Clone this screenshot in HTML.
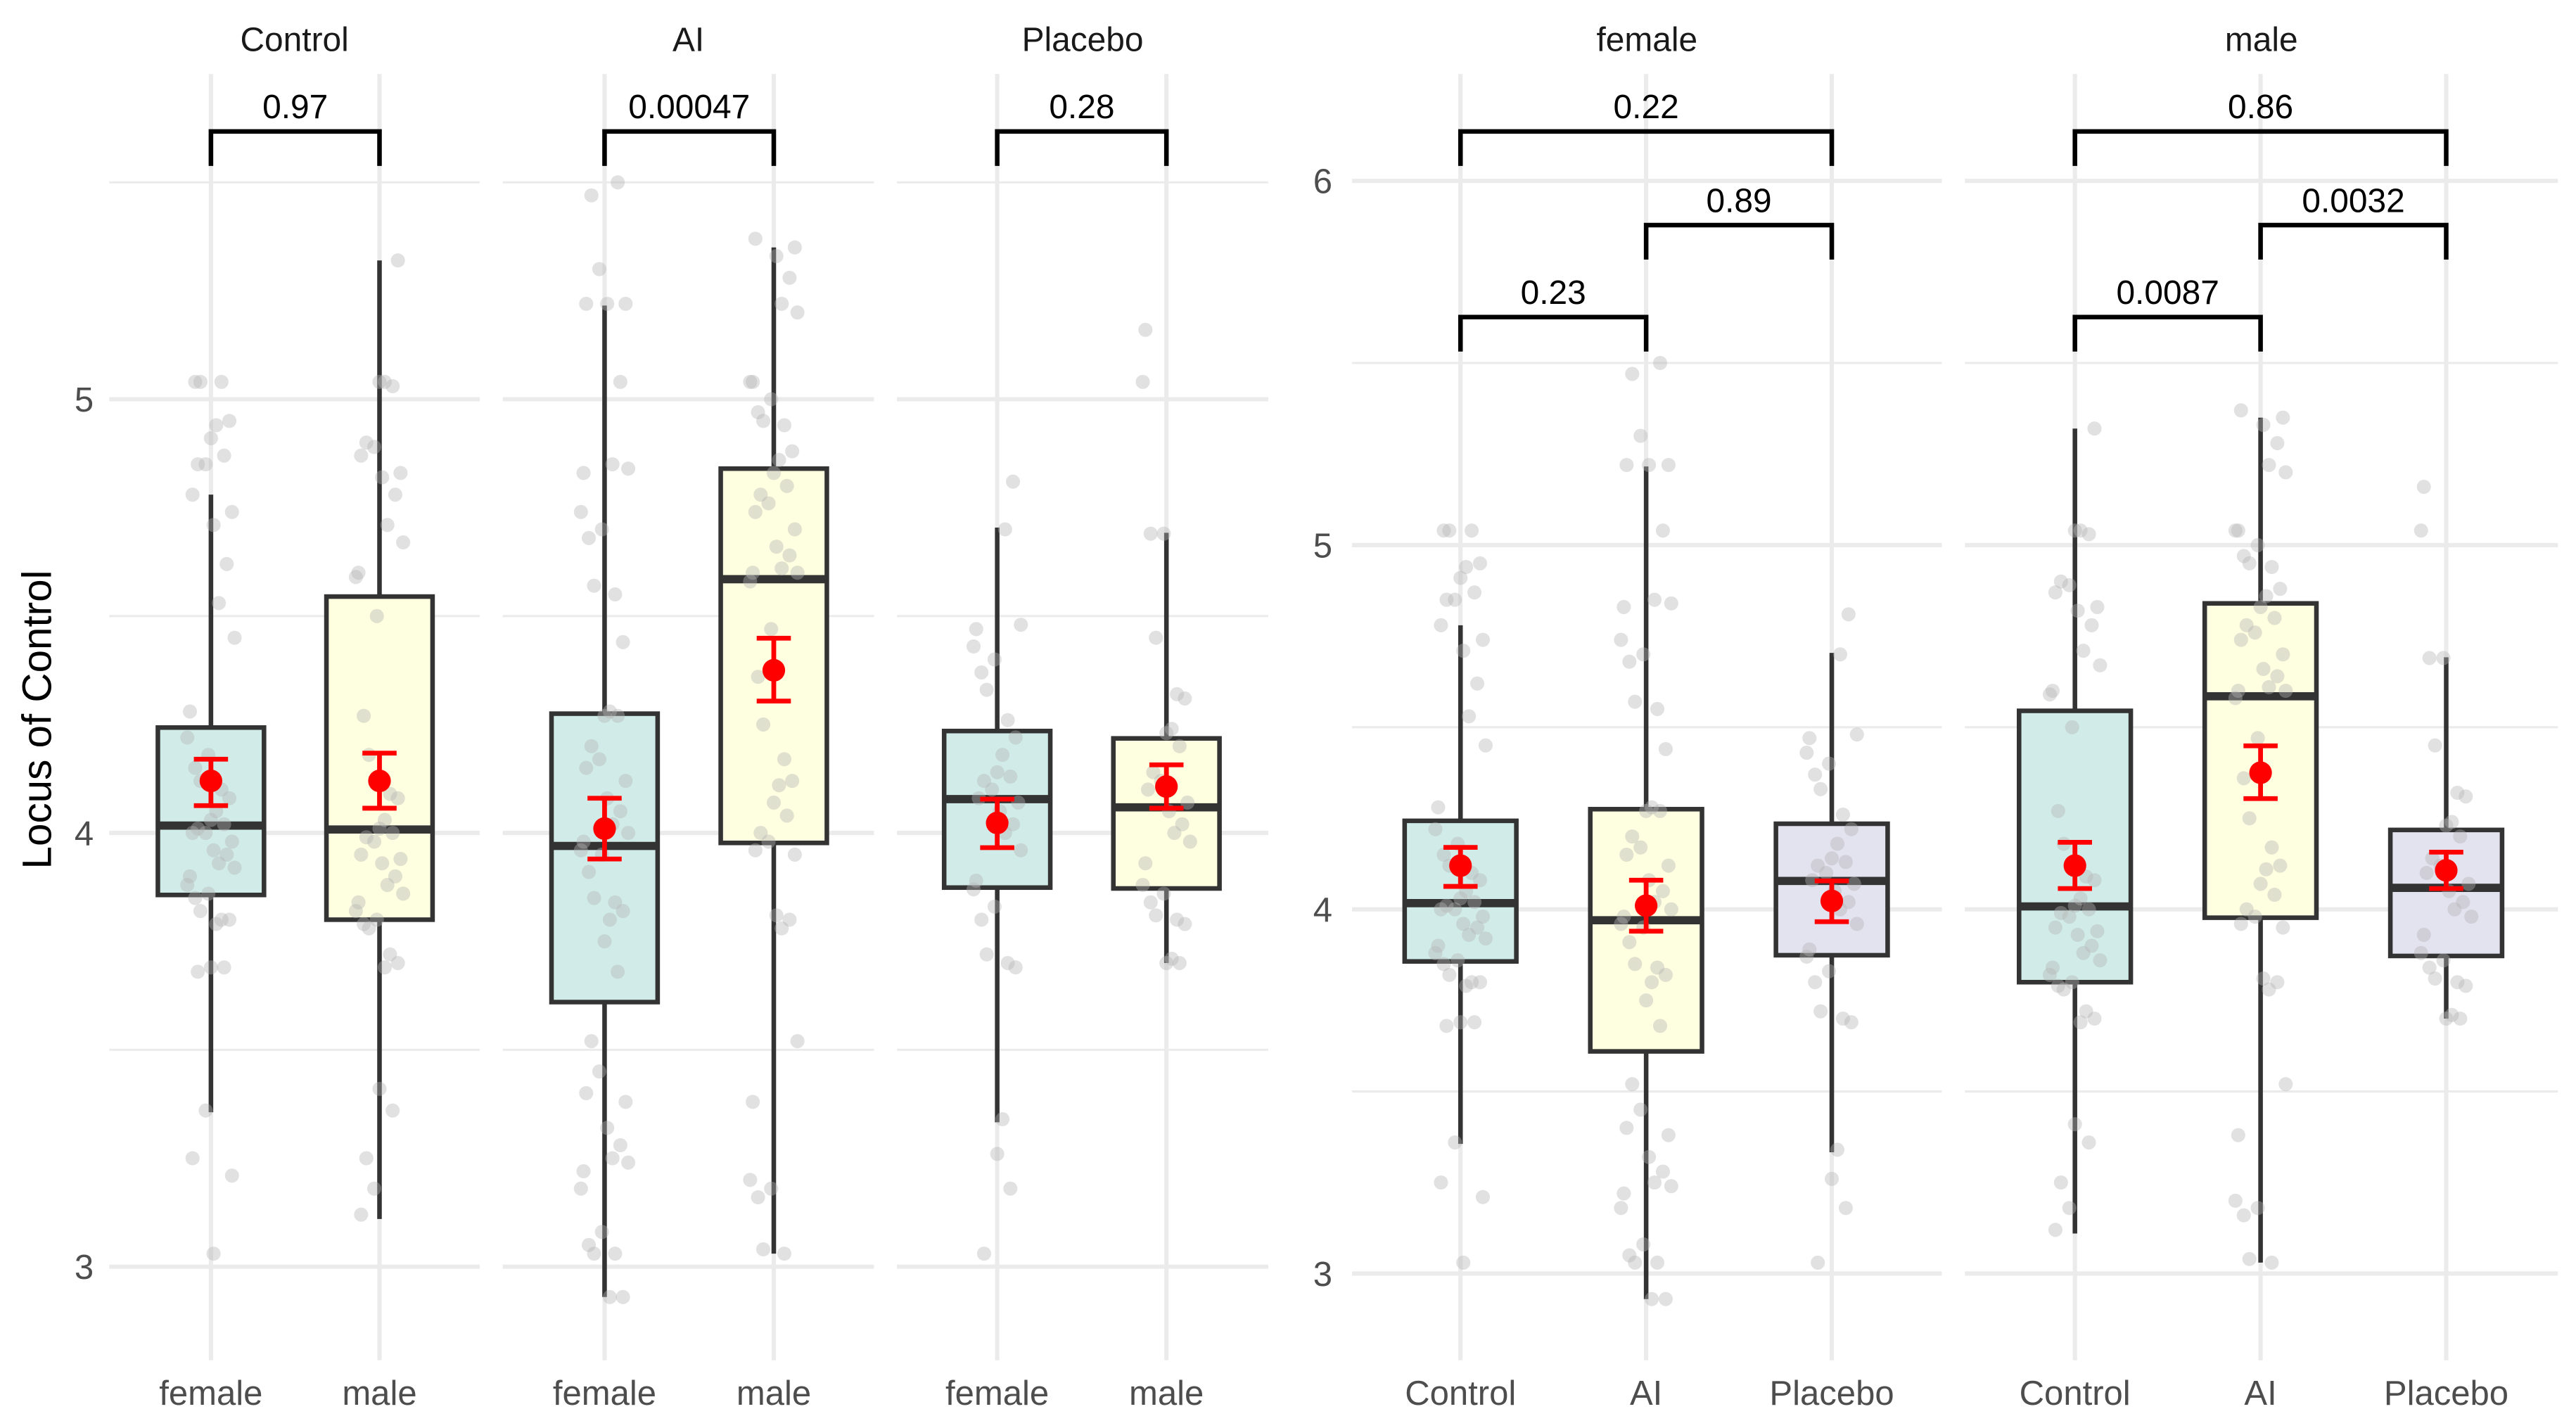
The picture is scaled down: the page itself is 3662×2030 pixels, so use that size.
<!DOCTYPE html>
<html><head><meta charset="utf-8"><style>
html,body{margin:0;padding:0;background:#fff;}
svg{display:block;font-family:"Liberation Sans",Arial,sans-serif;}
</style></head><body>
<svg id="chart" width="3662" height="2030" viewBox="0 0 1568 869.2" xmlns="http://www.w3.org/2000/svg">
<text x="0" y="0" transform="translate(31,438) rotate(-90)" text-anchor="middle" font-size="25" fill="#000">Locus of Control</text>
</svg>
<script>
// ---- data ----
const groupKeys = ["CF","CM","AF","AM","PF","PM"];
const boxQ1 =     [3.857,3.80,3.61,3.977,3.874,3.872];
const boxMedian = [4.017,4.008,3.97,4.585,4.078,4.059];
const boxQ3 =     [4.243,4.545,4.275,4.84,4.235,4.218];
const whiskLo =   [3.356,3.11,2.93,3.03,3.333,3.70];
const whiskHi =   [4.78,5.32,5.216,5.35,4.704,4.692];
const means =     [4.12,4.12,4.01,4.375,4.023,4.107];
const errLo =     [4.063,4.057,3.94,4.304,3.966,4.057];
const errHi =     [4.17,4.184,4.08,4.449,4.078,4.157];
const ptsCF = [5.04,5.04,5.04,4.95,4.94,4.91,4.87,4.85,4.85,4.78,4.74,4.71,4.62,4.53,4.45,4.28,4.22,4.18,4.15,4.12,4.1,4.08,4.05,4.03,4.02,4.01,4.0,4.0,3.98,3.96,3.95,3.93,3.92,3.9,3.88,3.86,3.85,3.82,3.80,3.80,3.79,3.69,3.69,3.68,3.36,3.25,3.21,3.03];
const ptsCM = [5.32,5.04,5.04,5.03,4.90,4.89,4.87,4.83,4.82,4.78,4.71,4.67,4.60,4.59,4.50,4.27,4.18,4.09,4.08,4.03,4.01,4.0,3.99,3.98,3.95,3.94,3.93,3.90,3.88,3.86,3.84,3.82,3.80,3.79,3.78,3.72,3.70,3.69,3.41,3.36,3.25,3.18,3.12];
const ptsAF = [5.5,5.47,5.30,5.22,5.22,5.22,5.04,4.85,4.84,4.83,4.74,4.70,4.68,4.57,4.55,4.44,4.28,4.27,4.27,4.2,4.17,4.15,4.12,4.08,4.05,4.02,4.0,3.98,3.96,3.95,3.91,3.85,3.84,3.82,3.8,3.75,3.68,3.52,3.45,3.40,3.38,3.32,3.28,3.25,3.24,3.22,3.18,3.08,3.05,3.03,3.03,2.93,2.93];
const ptsAM = [5.37,5.35,5.33,5.28,5.22,5.20,5.04,5.04,5.0,4.97,4.95,4.94,4.88,4.86,4.83,4.80,4.78,4.76,4.74,4.70,4.66,4.64,4.61,4.60,4.60,4.58,4.47,4.36,4.25,4.17,4.12,4.11,4.07,4.04,4.0,3.98,3.96,3.95,3.81,3.80,3.78,3.52,3.38,3.20,3.18,3.16,3.04,3.03];
const ptsPF = [4.81,4.70,4.48,4.47,4.43,4.40,4.37,4.33,4.26,4.22,4.18,4.14,4.13,4.12,4.1,4.08,4.07,4.05,4.02,4.0,3.96,3.89,3.87,3.83,3.80,3.72,3.70,3.69,3.34,3.26,3.18,3.03];
const ptsPM = [5.16,5.04,4.69,4.69,4.45,4.32,4.31,4.24,4.23,4.20,4.14,4.12,4.10,4.07,4.05,4.02,4.0,3.98,3.93,3.88,3.86,3.84,3.81,3.80,3.79,3.71,3.70,3.70];
const points = [ptsCF,ptsCM,ptsAF,ptsAM,ptsPF,ptsPM];
const leftPanelTitles = ["Control","AI","Placebo"];
const leftCats = ["female","male"];
const leftPvals = ["0.97","0.00047","0.28"];
const rightPanelTitles = ["female","male"];
const rightCats = ["Control","AI","Placebo"];
const rightPvalsFemale = ["0.23","0.89","0.22"];
const rightPvalsMale = ["0.0087","0.0032","0.86"];
const leftTicks = [3,4,5];
const rightTicks = [3,4,5,6];
const jitterPattern = [-0.6,0.3,-0.2,0.7,-0.9,0.1,0.5,-0.4,0.9,-0.7,0.2,-0.1,0.6,-0.5,0.4,-0.8,0.8,0.0];

const NS="http://www.w3.org/2000/svg";
const svg=document.getElementById('chart');
function el(tag,attrs,parent){const e=document.createElementNS(NS,tag);for(const k in attrs)e.setAttribute(k,attrs[k]);(parent||svg).appendChild(e);return e;}
function txt(s,attrs,parent){const e=el('text',attrs,parent);e.textContent=s;return e;}

const yL=v=>507-(v-4)*264;
const yR=v=>553.5-(v-4)*221.7;
const fills={C:"#d1ece8",A:"#fefee0",P:"#e3e2ef"};
const sexFills=["#d1ece8","#fefee0"];

function drawGroup(g,gi,cx,yS,halfW,fill,jitW){
  const w1=el('line',{x1:cx,x2:cx,y1:yS(whiskHi[gi]),y2:yS(boxQ3[gi]),stroke:"#333",'stroke-width':2.8},g);
  
  const w2=el('line',{x1:cx,x2:cx,y1:yS(boxQ1[gi]),y2:yS(whiskLo[gi]),stroke:"#333",'stroke-width':2.8},g);
  
  const b=el('rect',{x:cx-halfW,y:yS(boxQ3[gi]),width:2*halfW,height:yS(boxQ1[gi])-yS(boxQ3[gi]),fill:fill,stroke:"#333",'stroke-width':2.8},g);
  
  const m=el('line',{x1:cx-halfW,x2:cx+halfW,y1:yS(boxMedian[gi]),y2:yS(boxMedian[gi]),stroke:"#333",'stroke-width':5},g);
  
  points[gi].forEach((v,i)=>{
    const c=el('circle',{cx:cx+jitterPattern[(i*7+gi*3)%jitterPattern.length]*jitW,cy:yS(v),r:4.3,fill:"#b3b3b3","fill-opacity":0.4},g);
    
    
  });
  const e1=el('path',{d:`M${cx-10.4},${yS(errHi[gi])}H${cx+10.4}M${cx},${yS(errHi[gi])}V${yS(errLo[gi])}M${cx-10.4},${yS(errLo[gi])}H${cx+10.4}`,stroke:"#f00",'stroke-width':2.9,fill:"none"},g);
  
  const d=el('circle',{cx:cx,cy:yS(means[gi]),r:6.9,fill:"#f00"},g);
  
}
function bracket(parent,x1,x2,y,label){
  const p=el('path',{d:`M${x1},${y+21}V${y}H${x2}V${y+21}`,stroke:"#000",'stroke-width':2.8,fill:"none"},parent);
  
  const t=txt(label,{x:(x1+x2)/2,y:y-8,'text-anchor':'middle','font-size':20.5,fill:"#000"},parent);
  
}

// ---- left panels ----
const leftPanels=[[66.5,292,128.4,231],[306,532,368,471],[546,772,607,710]];
const grpLetters=["C","A","P"];
leftPanels.forEach((pp,pi)=>{
  const g=el('g',{});
  
  
  [3.5,4.5,5.5].forEach(v=>el('line',{x1:pp[0],x2:pp[1],y1:yL(v),y2:yL(v),stroke:"#ebebeb",'stroke-width':1.3},g));
  leftTicks.forEach(v=>el('line',{x1:pp[0],x2:pp[1],y1:yL(v),y2:yL(v),stroke:"#ebebeb",'stroke-width':2.6},g));
  [pp[2],pp[3]].forEach(x=>el('line',{x1:x,x2:x,y1:45,y2:828,stroke:"#ebebeb",'stroke-width':2.6},g));
  const st=txt(leftPanelTitles[pi],{x:(pp[0]+pp[1])/2,y:31,'text-anchor':'middle','font-size':20.5,fill:"#1a1a1a"},g);
  
  [0,1].forEach(k=>{
    const gi=pi*2+k;
    drawGroup(g,gi,pp[2+k],yL,32.3,sexFills[k],16);
    const xt=txt(leftCats[k],{x:pp[2+k],y:855,'text-anchor':'middle','font-size':21,fill:"#4d4d4d"},g);
    
  });
  bracket(g,pp[2],pp[3],80,leftPvals[pi]);
});
leftTicks.forEach(v=>{
  const t=txt(String(v),{x:57,y:yL(v)+7.5,'text-anchor':'end','font-size':21,fill:"#4d4d4d"});
  
});

// ---- right panels ----
const rightPanels=[[823,1182,[889,1002,1115],[0,2,4],rightPvalsFemale],[1196,1557,[1263,1376,1489],[1,3,5],rightPvalsMale]];
rightPanels.forEach((pp,pi)=>{
  const g=el('g',{});
  
  
  [3.5,4.5,5.5].forEach(v=>el('line',{x1:pp[0],x2:pp[1],y1:yR(v),y2:yR(v),stroke:"#ebebeb",'stroke-width':1.3},g));
  rightTicks.forEach(v=>el('line',{x1:pp[0],x2:pp[1],y1:yR(v),y2:yR(v),stroke:"#ebebeb",'stroke-width':2.6},g));
  pp[2].forEach(x=>el('line',{x1:x,x2:x,y1:45,y2:828,stroke:"#ebebeb",'stroke-width':2.6},g));
  const st=txt(rightPanelTitles[pi],{x:(pp[0]+pp[1])/2,y:31,'text-anchor':'middle','font-size':20.5,fill:"#1a1a1a"},g);
  
  pp[3].forEach((gi,k)=>{
    drawGroup(g,gi,pp[2][k],yR,34,fills[grpLetters[k]],17);
    const xt=txt(rightCats[k],{x:pp[2][k],y:855,'text-anchor':'middle','font-size':21,fill:"#4d4d4d"},g);
    
  });
  bracket(g,pp[2][0],pp[2][1],193,pp[4][0]);
  bracket(g,pp[2][1],pp[2][2],137,pp[4][1]);
  bracket(g,pp[2][0],pp[2][2],80,pp[4][2]);
});
rightTicks.forEach(v=>{
  const t=txt(String(v),{x:811,y:yR(v)+7.5,'text-anchor':'end','font-size':21,fill:"#4d4d4d"});
  
});
</script>
</body></html>
